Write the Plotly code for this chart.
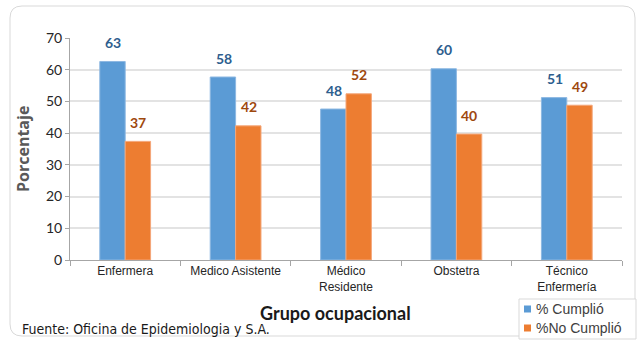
import plotly.graph_objects as go

categories = ["Enfermera", "Medico Asistente", "Médico<br>Residente", "Obstetra", "Técnico<br>Enfermería"]
cumplio = [62.6, 57.7, 47.6, 60.3, 51.2]
no_cumplio = [37.4, 42.3, 52.4, 39.7, 48.8]
cumplio_labels = ["63", "58", "48", "60", "51"]
no_cumplio_labels = ["37", "42", "52", "40", "49"]
series_names = ["% Cumplió", "%No Cumplió"]
y_ticks = [0, 10, 20, 30, 40, 50, 60, 70]

W, H = 638, 340
ML, MR, MT, MB = 70, 16, 38, 80
PW, PH = W - ML - MR, H - MT - MB

def px(x):
    return (x - ML) / PW

def py(y):
    return (H - MB - y) / PH

BLUE = "#5B9BD5"
ORANGE = "#ED7D31"
FONT = "Lato"

fig = go.Figure()
fig.add_trace(go.Bar(x=categories, y=cumplio, name=series_names[0], showlegend=False,
                     marker=dict(color=BLUE, line=dict(color="#8DB8E2", width=1))))
fig.add_trace(go.Bar(x=categories, y=no_cumplio, name=series_names[1], showlegend=False,
                     marker=dict(color=ORANGE, line=dict(color="#F4A77A", width=1))))

annotations = []
for c, v, t in zip(categories, cumplio, cumplio_labels):
    annotations.append(dict(x=c, y=v, text=f"<b>{t}</b>", showarrow=False, xshift=-12, yshift=19,
                            font=dict(family=FONT, size=14, color="#2E5E8E")))
for c, v, t in zip(categories, no_cumplio, no_cumplio_labels):
    annotations.append(dict(x=c, y=v, text=f"<b>{t}</b>", showarrow=False, xshift=13, yshift=19,
                            font=dict(family=FONT, size=14, color="#9E480E")))

annotations.append(dict(xref="paper", yref="paper", x=px(335), y=py(313), text="<b>Grupo ocupacional</b>",
                        showarrow=False, xanchor="center", yanchor="middle",
                        font=dict(family=FONT, size=18, color="#1a1a1a")))
annotations.append(dict(xref="paper", yref="paper", x=px(20), y=py(329),
                        text="Fuente: Oficina de Epidemiologia y S.A.",
                        showarrow=False, xanchor="left", yanchor="middle",
                        font=dict(family="Liberation Sans Narrow, DejaVu Sans Condensed, Lato", size=14, color="#1a1a1a")))
annotations.append(dict(xref="paper", yref="paper", x=px(23), y=0.5, text="<b>Porcentaje</b>",
                        textangle=-90, showarrow=False, xanchor="center", yanchor="middle",
                        font=dict(family="Open Sans", size=16, color="#595959")))

# custom legend (box, swatches, labels)
legend_colors = [BLUE, ORANGE]
legend_rows = [309, 328]
shapes = [dict(type="rect", xref="paper", yref="paper", x0=px(519), x1=px(636), y0=py(299), y1=py(339),
               fillcolor="white", line=dict(color="#D9D9D9", width=1))]
for name, col, yy in zip(series_names, legend_colors, legend_rows):
    shapes.append(dict(type="rect", xref="paper", yref="paper", x0=px(524), x1=px(531),
                       y0=py(yy - 3.5), y1=py(yy + 3.5), fillcolor=col, line=dict(width=0)))
    annotations.append(dict(xref="paper", yref="paper", x=px(534), y=py(yy), text=name,
                            showarrow=False, xanchor="left", yanchor="middle",
                            font=dict(family="Liberation Sans, Arial", size=14, color="#404040")))

# rounded chart border
x0, x1, y0, y1, r = px(10), px(635), py(6), py(336), 12
rx, ry = r / PW, r / PH
path = (f"M {x0+rx},{y0} L {x1-rx},{y0} Q {x1},{y0} {x1},{y0-ry} "
        f"L {x1},{y1+ry} Q {x1},{y1} {x1-rx},{y1} "
        f"L {x0+rx},{y1} Q {x0},{y1} {x0},{y1+ry} "
        f"L {x0},{y0-ry} Q {x0},{y0} {x0+rx},{y0} Z")
shapes.insert(0, dict(type="path", xref="paper", yref="paper", path=path,
                      line=dict(color="#D9D9D9", width=1), layer="below"))

fig.update_layout(
    width=W, height=H,
    margin=dict(l=ML, r=MR, t=MT, b=MB, autoexpand=False),
    paper_bgcolor="white", plot_bgcolor="white",
    barmode="group", bargap=0.54, bargroupgap=0.0,
    showlegend=False,
    annotations=annotations,
    shapes=shapes,
    xaxis=dict(type="category", showgrid=False, showline=True, linecolor="#A6A6A6",
               linewidth=1, ticks="outside", tickson="boundaries", ticklen=5,
               tickcolor="#A6A6A6",
               tickfont=dict(family="Liberation Sans, Arial", size=12, color="#262626")),
    yaxis=dict(range=[0, 70], tickvals=y_ticks, showgrid=True, gridcolor="#E3E3E3",
               gridwidth=2, showline=True, linecolor="#A6A6A6", linewidth=1,
               ticks="outside", ticklen=4, tickcolor="#A6A6A6", zeroline=False,
               tickfont=dict(family=FONT, size=14, color="#262626")),
)

fig.write_html("out.html")
